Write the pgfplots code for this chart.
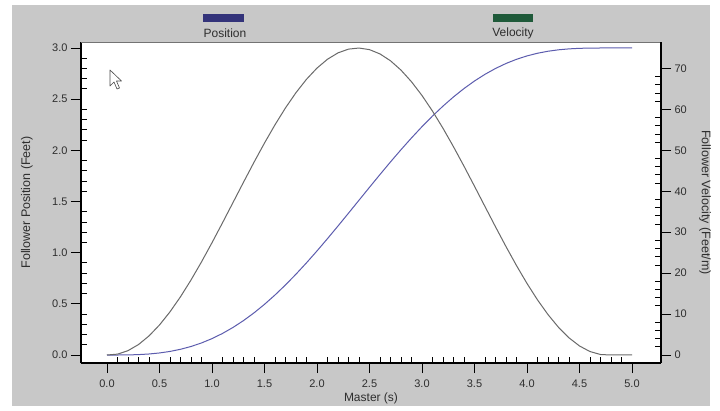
\documentclass[border=0pt]{standalone}
\usepackage{fontspec}
\setmainfont{Liberation Sans}
\usepackage{pgfplots}
\usepackage{pgfplotstable}
\pgfplotsset{compat=1.18}

\definecolor{bggray}{HTML}{C8C8C8}
\definecolor{txt}{HTML}{2E2E2E}
\definecolor{poscol}{HTML}{5C5CAE}
\definecolor{velcol}{HTML}{6A6A6A}
\definecolor{legpos}{HTML}{33337A}
\definecolor{legvel}{HTML}{1F5A3A}

% master (s), follower position (ft), follower velocity (ft/m)
\pgfplotstableread{
x   p       v
0.0 0.0000  0.000
0.1 0.0001  0.211
0.2 0.0011  1.062
0.3 0.0040  2.554
0.4 0.0100  4.658
0.5 0.0201  7.338
0.6 0.0351  10.548
0.7 0.0560  14.230
0.8 0.0834  18.321
0.9 0.1180  22.749
1.0 0.1603  27.435
1.1 0.2107  32.298
1.2 0.2694  37.252
1.3 0.3365  42.210
1.4 0.4118  47.086
1.5 0.4953  51.793
1.6 0.5865  56.250
1.7 0.6850  60.378
1.8 0.7901  64.104
1.9 0.9011  67.364
2.0 1.0172  70.100
2.1 1.1374  72.263
2.2 1.2608  73.817
2.3 1.3862  74.733
2.4 1.5127  74.997
2.5 1.6390  74.602
2.6 1.7641  73.556
2.7 1.8869  71.878
2.8 2.0064  69.597
2.9 2.1215  66.752
3.0 2.2314  63.394
3.1 2.3353  59.582
3.2 2.4323  55.382
3.3 2.5220  50.869
3.4 2.6039  46.121
3.5 2.6776  41.222
3.6 2.7430  36.257
3.7 2.8000  31.314
3.8 2.8488  26.480
3.9 2.8895  21.839
4.0 2.9227  17.473
4.1 2.9487  13.458
4.2 2.9683  9.866
4.3 2.9823  6.758
4.4 2.9914  4.189
4.5 2.9968  2.205
4.6 2.9992  0.840
4.7 3.0000  0.119
4.8 3.0000  0.000
4.9 3.0000  0.000
5.0 3.0000  0.000
}\motion

\pgfplotsset{
  base/.style={
    at={(81pt,47pt)}, anchor=south west,
    scale only axis, width=580pt, height=321pt,
    xmin=-0.2476, xmax=5.276,
    tick align=outside,
    major tick length=10pt, minor tick length=6pt,
    every tick/.style={black, line width=0.9pt},
    tick label style={font=\fontsize{11}{13}\selectfont, text=txt},
    label style={font=\fontsize{12.5}{14}\selectfont, text=txt},
    /pgf/number format/assume math mode=true,
  },
}

\begin{document}
\begin{tikzpicture}[x=1pt,y=1pt]
\useasboundingbox (0,0) rectangle (720,410);
\fill[white] (0,0) rectangle (720,410);
\fill[bggray] (12,4) rectangle (710,405);

\begin{axis}[base,
  axis background/.style={fill=white},
  axis x line*=bottom, axis y line*=left,
  axis line style={black, line width=1.4pt, -},
  ymin=-0.078, ymax=3.0586,
  xtick={0,0.5,...,5}, minor x tick num=4,
  ytick={0,0.5,...,3}, minor y tick num=4,
  minor x tick style={yshift=6pt},
  minor y tick style={xshift=6pt},
  xticklabel style={yshift=-3pt},
  xticklabel={\pgfmathprintnumber[fixed,fixed zerofill,precision=1]{\tick}},
  yticklabel={\pgfmathprintnumber[fixed,fixed zerofill,precision=1]{\tick}},
  xlabel={Master (s)},
  xlabel style={at={(axis description cs:0.5,-0.109)}, anchor=center, font=\fontsize{12}{14}\selectfont},
  ylabel={Follower Position (Feet)},
  ylabel style={at={(axis description cs:-0.0931,0.5)}, anchor=center},
  extra description/.code={\draw[black!55, line width=0.8pt] (0,1) -- (1,1);},
]
\addplot[poscol, line width=1pt] table[x=x, y=p]{\motion};
\end{axis}

\begin{axis}[base,
  axis x line=none, axis y line*=right,
  axis line style={black, line width=1.4pt, -},
  ymin=-1.955, ymax=76.47,
  ytick={0,10,...,70}, minor y tick num=4,
  minor y tick style={xshift=-6pt},
  ylabel={Follower Velocity (Feet/m)},
  ylabel style={at={(axis description cs:1.0759,0.5)}, anchor=center, rotate=180},
]
\addplot[velcol, line width=1pt] table[x=x, y=v]{\motion};
\end{axis}

% legend
\fill[legpos] (203,388) rectangle (244,396);
\node[text=txt, font=\fontsize{12}{14}\selectfont] at (225,377) {Position};
\fill[legvel] (493,388) rectangle (533,396);
\node[text=txt, font=\fontsize{12}{14}\selectfont] at (513,377) {Velocity};

% mouse pointer
\draw[black!70, fill=white, line width=0.6pt, line join=round]
  (110,340) -- (110,324) -- (114,328) -- (117,321) -- (119.5,322) -- (116.5,329) -- (121.5,329) -- cycle;
\end{tikzpicture}
\end{document}
